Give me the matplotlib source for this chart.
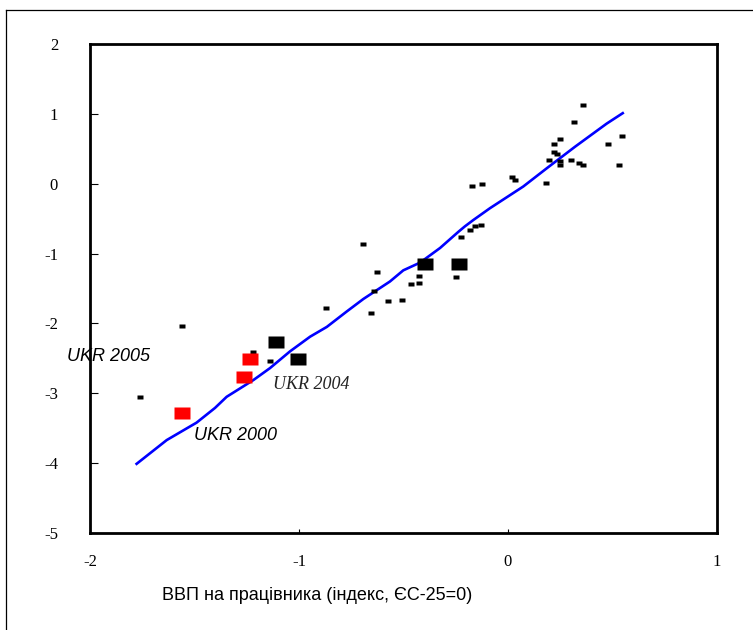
import matplotlib
matplotlib.use("Agg")
import matplotlib.pyplot as plt
from matplotlib.lines import Line2D
from matplotlib.path import Path

# small country markers
pts_x = [-1.761, -1.558, -1.221, -1.140, -0.871, -0.695, -0.628, -0.641, -0.573, -0.656,
         -0.507, -0.466, -0.426, -0.426, -0.250, -0.223, -0.183, -0.158, -0.131, -0.172,
         -0.124, 0.019, 0.033, 0.182, 0.357, 0.316, 0.545, 0.477, 0.247, 0.222,
         0.222, 0.236, 0.195, 0.249, 0.249, 0.303, 0.341, 0.357, 0.533]
pts_y = [-3.05, -2.03, -2.41, -2.54, -1.78, -0.87, -1.27, -1.54, -1.68, -1.85,
         -1.66, -1.44, -1.32, -1.42, -1.34, -0.76, -0.66, -0.60, -0.585, -0.03,
         0.0, 0.09, 0.06, 0.01, 1.13, 0.88, 0.69, 0.57, 0.64, 0.57,
         0.45, 0.42, 0.34, 0.33, 0.27, 0.34, 0.30, 0.27, 0.27]

# big black markers
big_x = [-1.112, -1.005, -0.397, -0.234]
big_y = [-2.27, -2.51, -1.15, -1.15]

# Ukraine (red)
ukr_x = [-1.234, -1.262, -1.558]
ukr_y = [-2.51, -2.76, -3.28]

# fitted curve
line_x = [-1.777, -1.633, -1.553, -1.490, -1.402, -1.346, -1.218, -1.139, -1.043, -0.947,
          -0.867, -0.772, -0.692, -0.565, -0.501, -0.421, -0.325, -0.238, -0.206, -0.166,
          -0.086, 0.073, 0.185, 0.321, 0.472, 0.549]
line_y = [-4.01, -3.67, -3.53, -3.42, -3.21, -3.05, -2.81, -2.64, -2.40, -2.19,
          -2.05, -1.83, -1.65, -1.40, -1.24, -1.13, -0.92, -0.69, -0.61, -0.52,
          -0.35, -0.04, 0.22, 0.53, 0.86, 1.01]

xticks = [-2, -1, 0, 1]
yticks = [2, 1, 0, -1, -2, -3, -4, -5]


def rect_marker(w, h):
    return Path([(-w, -h), (w, -h), (w, h), (-w, h), (-w, -h)], closed=True)


fig = plt.figure(figsize=(7.53, 6.3), dpi=100)
ax = fig.add_axes([90 / 753, 1 - 533 / 630, 627 / 753, 489 / 630])

ax.plot(line_x, line_y, color="#0000FF", lw=1.9, zorder=2)
ax.plot(pts_x, pts_y, ls="none", marker=rect_marker(1.0, 0.75), ms=4.4,
        color="black", mec="none", zorder=3)
ax.plot(big_x, big_y, ls="none", marker=rect_marker(1.0, 0.69), ms=11.5,
        color="black", mec="none", zorder=3)
ax.plot(ukr_x, ukr_y, ls="none", marker=rect_marker(1.0, 0.70), ms=12,
        color="#FF0000", mec="none", zorder=3)

ax.set_xlim(-2, 1)
ax.set_ylim(-5, 2)
ax.set_xticks(xticks)
ax.set_yticks(yticks)
ax.set_xticklabels([str(v) for v in xticks], family="Liberation Serif", fontsize=12)
ax.set_yticklabels([str(v) for v in yticks], family="Liberation Serif", fontsize=12)
ax.tick_params(axis="y", direction="in", length=6, width=0.8, pad=23)
ax.tick_params(axis="x", direction="in", length=3, width=0.8, pad=15)
for s in ax.spines.values():
    s.set_linewidth(2)
    s.set_zorder(4)

ax.text(-2.11, -2.48, "UKR 2005", family="Liberation Sans", style="italic",
        fontsize=13, va="center", ha="left", clip_on=False, zorder=1)
ax.text(-1.124, -2.88, "UKR 2004", family="Liberation Serif", style="italic",
        fontsize=13, va="center", ha="left", color="#222222")
ax.text(-1.502, -3.61, "UKR 2000", family="Liberation Sans", style="italic",
        fontsize=13, va="center", ha="left")

fig.text(162 / 753, 1 - 596 / 630, "ВВП на працівника (індекс, ЄС-25=0)",
         family="Liberation Sans", fontsize=13, ha="left", va="center")

# outer frame (top and left only)
fig.add_artist(Line2D([6 / 753, 6 / 753], [0, 1 - 10 / 630], color="black", lw=0.9))
fig.add_artist(Line2D([6 / 753, 1], [1 - 10 / 630, 1 - 10 / 630], color="black", lw=0.9))

fig.savefig("out.png", dpi=100)
